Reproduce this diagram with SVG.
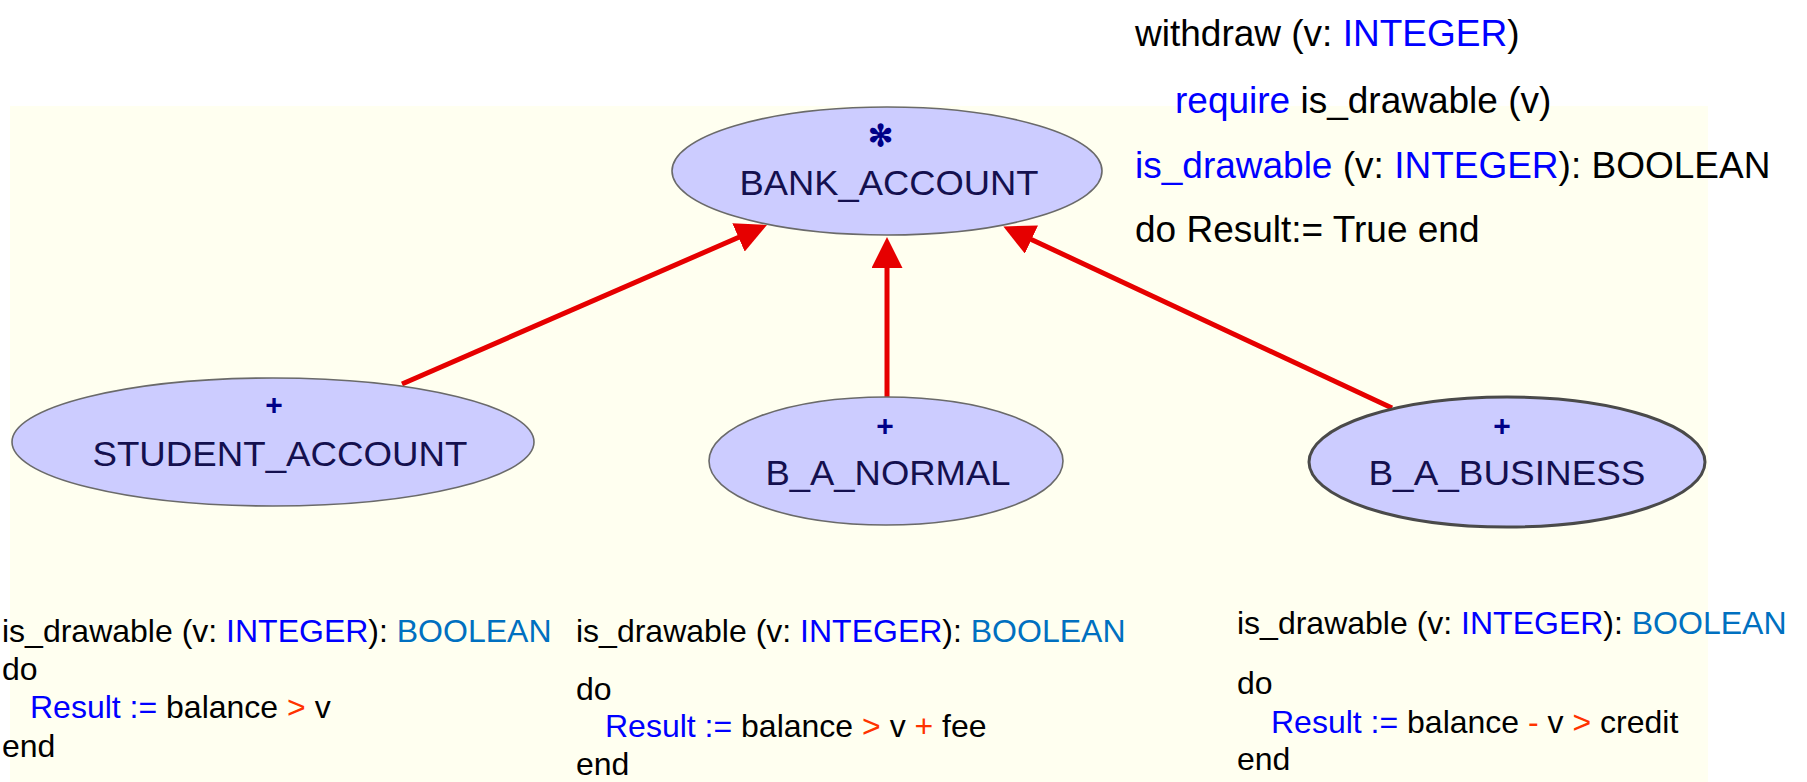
<svg xmlns="http://www.w3.org/2000/svg" width="1807" height="782" viewBox="0 0 1807 782">
  <defs>
    <style>
      .bg { fill: #FFFFF0; }
      .node { fill: #CCCCFF; stroke: #6a6a6a; stroke-width: 1.6; }
      .node.sel { stroke: #4a4a4a; stroke-width: 3; }
      .label { font-family: "Liberation Sans", Arial, sans-serif; font-size: 35px; fill: #14104f; text-anchor: middle; }
      .mark { font-family: "Liberation Sans", Arial, sans-serif; font-size: 30px; font-weight: bold; fill: #000088; text-anchor: middle; }
      .edge { stroke: #E60000; stroke-width: 5; fill: none; marker-end: url(#head); }
      .code { font-family: "Liberation Sans", Arial, sans-serif; font-size: 32px; fill: #000000; }
      .code.big { font-size: 37px; }
      .kw { fill: #0000FF; }
      .ty { fill: #0070C0; }
      .op { fill: #FF3300; }
    </style>
    <marker id="head" viewBox="0 0 31 31" refX="6" refY="15.5" markerWidth="31" markerHeight="31" markerUnits="userSpaceOnUse" orient="auto">
      <path d="M0,0 L31,15.5 L0,31 Z" fill="#E60000"/>
    </marker>
  </defs>

  <!-- canvas -->
  <rect class="bg" x="10" y="106" width="1698" height="676"/>

  <!-- inheritance links -->
  <g id="connectors">
    <path class="edge" d="M402,384 L744,235"/>
    <path class="edge" d="M887,397 L887,262"/>
    <path class="edge" d="M1392,408 L1026,237"/>
  </g>

  <g id="bank_account">
    <ellipse class="node" cx="887" cy="171" rx="215" ry="64"/>
    <text class="mark" x="880" y="146">✻</text>
    <text class="label" x="889" y="195" textLength="299" lengthAdjust="spacingAndGlyphs">BANK_ACCOUNT</text>
  </g>

  <g id="student_account">
    <ellipse class="node" cx="273" cy="442" rx="261" ry="64"/>
    <text class="mark" x="274" y="415">+</text>
    <text class="label" x="280" y="466" textLength="375" lengthAdjust="spacingAndGlyphs">STUDENT_ACCOUNT</text>
  </g>

  <g id="b_a_normal">
    <ellipse class="node" cx="886" cy="461" rx="177" ry="64"/>
    <text class="mark" x="885" y="436">+</text>
    <text class="label" x="888" y="485" textLength="245" lengthAdjust="spacingAndGlyphs">B_A_NORMAL</text>
  </g>

  <g id="b_a_business">
    <ellipse class="node sel" cx="1507" cy="462" rx="198" ry="65"/>
    <text class="mark" x="1502" y="436">+</text>
    <text class="label" x="1507" y="485" textLength="277" lengthAdjust="spacingAndGlyphs">B_A_BUSINESS</text>
  </g>

  <!-- deferred feature in the parent class -->
  <g id="parent_code">
    <text class="code big" x="1135" y="46">withdraw (v: <tspan class="kw">INTEGER</tspan>)</text>
    <text class="code big" x="1175" y="113"><tspan class="kw">require</tspan> is_drawable (v)</text>
    <text class="code big" x="1135" y="178"><tspan class="kw">is_drawable</tspan> (v: <tspan class="kw">INTEGER</tspan>): BOOLEAN</text>
    <text class="code big" x="1135" y="242">do Result:= True end</text>
  </g>

  <!-- redefinitions in the heirs -->
  <g id="student_code">
    <text class="code" x="2" y="642">is_drawable (v: <tspan class="kw">INTEGER</tspan>): <tspan class="ty">BOOLEAN</tspan></text>
    <text class="code" x="2" y="680">do</text>
    <text class="code" x="30" y="718"><tspan class="kw">Result :=</tspan> balance <tspan class="op">&gt;</tspan> v</text>
    <text class="code" x="2" y="757">end</text>
  </g>

  <g id="normal_code">
    <text class="code" x="576" y="642">is_drawable (v: <tspan class="kw">INTEGER</tspan>): <tspan class="ty">BOOLEAN</tspan></text>
    <text class="code" x="576" y="700">do</text>
    <text class="code" x="605" y="737"><tspan class="kw">Result :=</tspan> balance <tspan class="op">&gt;</tspan> v <tspan class="op">+</tspan> fee</text>
    <text class="code" x="576" y="775">end</text>
  </g>

  <g id="business_code">
    <text class="code" x="1237" y="634">is_drawable (v: <tspan class="kw">INTEGER</tspan>): <tspan class="ty">BOOLEAN</tspan></text>
    <text class="code" x="1237" y="694">do</text>
    <text class="code" x="1271" y="733"><tspan class="kw">Result :=</tspan> balance <tspan class="op">-</tspan> v <tspan class="op">&gt;</tspan> credit</text>
    <text class="code" x="1237" y="770">end</text>
  </g>
</svg>
